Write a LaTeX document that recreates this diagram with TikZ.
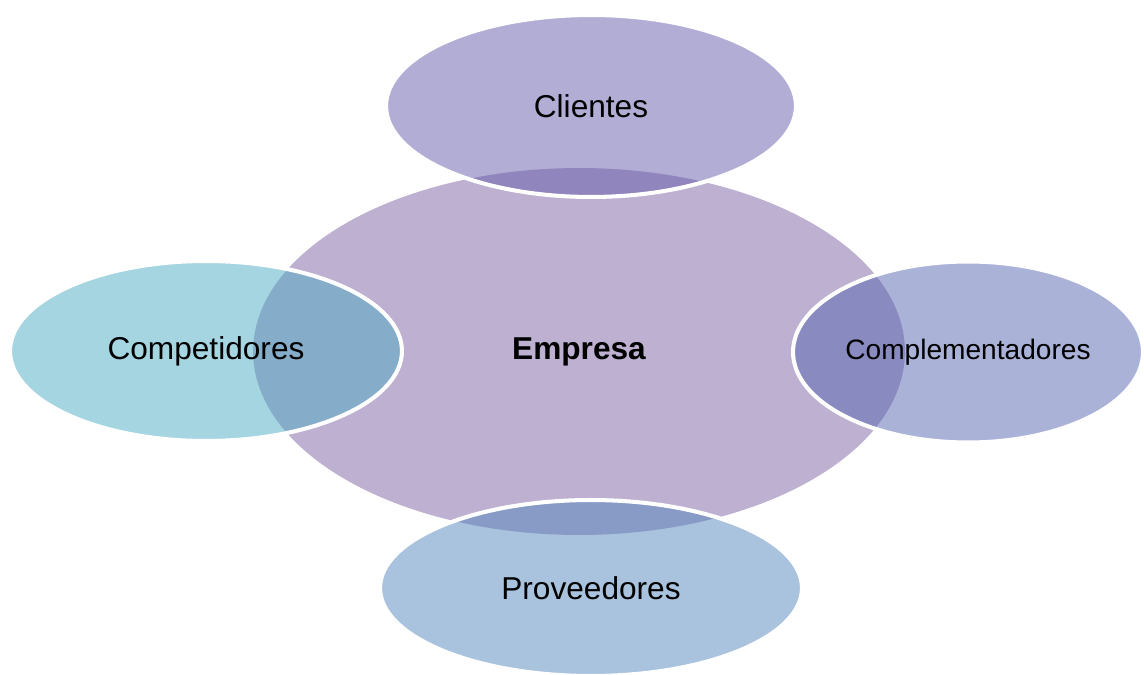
\documentclass[tikz,border=0pt]{standalone}
\usepackage{fontspec}
\setmainfont{Liberation Sans}
\usetikzlibrary{shapes.geometric}
\definecolor{empresacol}{RGB}{190,176,208}
\definecolor{clientescol}{RGB}{99,91,171}
\definecolor{competcol}{RGB}{77,171,197}
\definecolor{complcol}{RGB}{85,101,177}
\definecolor{provcol}{RGB}{83,133,189}
\begin{document}
\begin{tikzpicture}[
			x=0.02cm, y=-0.02cm,
			center/.style={ellipse, fill=empresacol, inner sep=0pt,
					font=\bfseries\fontsize{18}{21}\selectfont},
			outer/.style={ellipse, draw=white, line width=2.3pt, fill opacity=0.5,
					text opacity=1, inner sep=0pt, font=\fontsize{18}{21}\selectfont}
		]
		\useasboundingbox (0,0) rectangle (1144,675);
		\node[center, minimum width=13.04cm, minimum height=7.34cm] (empresa) at (579,351.5) {Empresa};
		\node[outer, fill=clientescol, minimum width=8.2cm, minimum height=3.64cm] (clientes) at (591,106) {Clientes};
		\node[outer, fill=competcol, minimum width=7.84cm, minimum height=3.6cm] (competidores) at (206,351) {Competidores};
		\node[outer, fill=complcol, minimum width=7cm, minimum height=3.62cm,
			font=\fontsize{16}{19}\selectfont] (complementadores) at (968,352) {Complementadores};
		\node[outer, fill=provcol, minimum width=8.44cm, minimum height=3.52cm] (proveedores) at (591,588) {Proveedores};
	\end{tikzpicture}
\end{document}
